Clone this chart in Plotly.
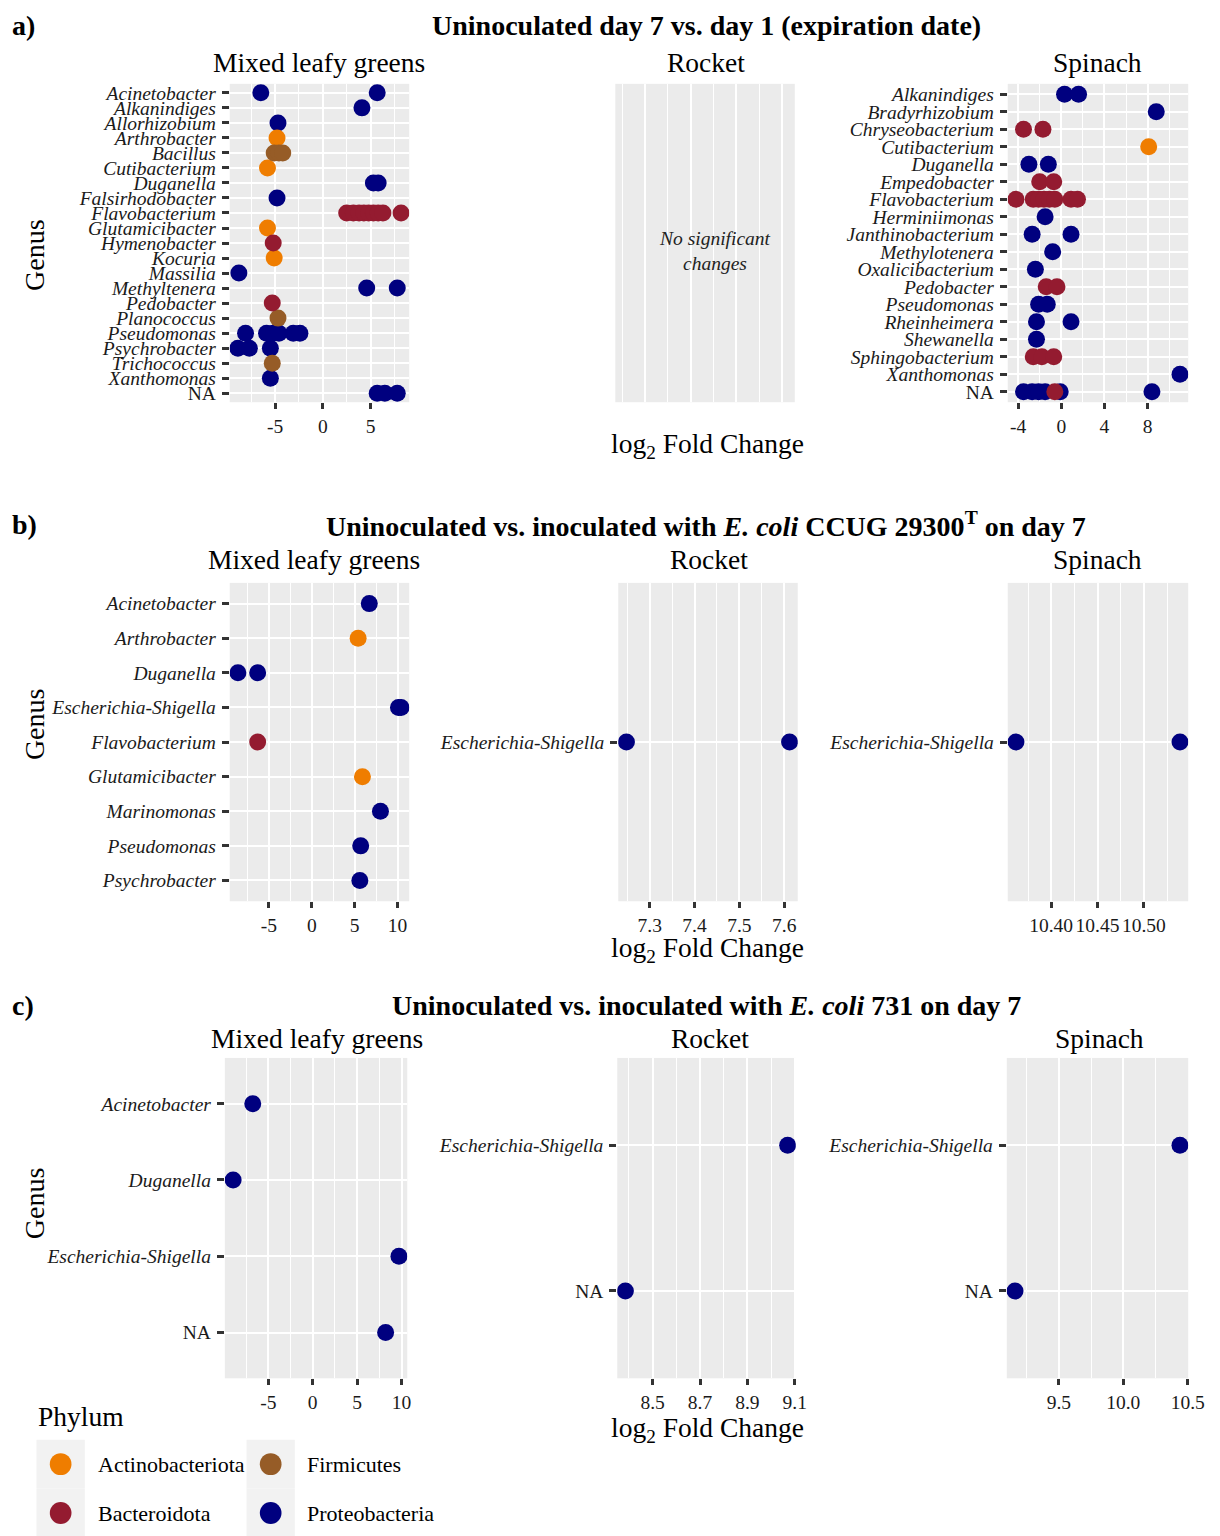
import plotly.graph_objects as go

W, H = 1220, 1536
SERIF = "Liberation Serif, Times New Roman, serif"

# ---------------- phylum palette ----------------
PHYLUM_CODES = ["Act", "Bac", "Fir", "Pro"]
PHYLUM_NAMES = ["Actinobacteriota", "Bacteroidota", "Firmicutes", "Proteobacteria"]
PHYLUM_COLORS = ["#EF7D00", "#941B30", "#965C27", "#00007F"]
DRAW_ORDER = ["Pro", "Act", "Fir", "Bac"]

# ---------------- a) Mixed leafy greens ----------------
A_MIX_ORDER = ["Acinetobacter", "Alkanindiges", "Allorhizobium", "Arthrobacter", "Bacillus",
               "Cutibacterium", "Duganella", "Falsirhodobacter", "Flavobacterium", "Glutamicibacter",
               "Hymenobacter", "Kocuria", "Massilia", "Methyltenera", "Pedobacter", "Planococcus",
               "Pseudomonas", "Psychrobacter", "Trichococcus", "Xanthomonas", "NA"]
A_MIX_GENUS = ["Acinetobacter", "Acinetobacter", "Alkanindiges", "Allorhizobium", "Arthrobacter",
               "Bacillus", "Bacillus", "Bacillus", "Cutibacterium", "Duganella", "Duganella",
               "Falsirhodobacter",
               "Flavobacterium", "Flavobacterium", "Flavobacterium", "Flavobacterium", "Flavobacterium",
               "Flavobacterium", "Flavobacterium", "Flavobacterium", "Flavobacterium",
               "Glutamicibacter", "Hymenobacter", "Kocuria", "Massilia", "Methyltenera", "Methyltenera",
               "Pedobacter", "Planococcus",
               "Pseudomonas", "Pseudomonas", "Pseudomonas", "Pseudomonas", "Pseudomonas", "Pseudomonas",
               "Psychrobacter", "Psychrobacter", "Psychrobacter", "Trichococcus", "Xanthomonas",
               "NA", "NA", "NA"]
A_MIX_LFC = [-6.5, 5.7, 4.1, -4.7, -4.8,
             -5.1, -4.6, -4.2, -5.8, 5.3, 5.8,
             -4.8,
             2.5, 3.2, 3.8, 4.3, 4.8, 5.3, 5.8, 6.3, 8.2,
             -5.8, -5.2, -5.1, -8.8, 4.6, 7.8,
             -5.3, -4.7,
             -8.1, -5.9, -5.2, -4.6, -3.1, -2.4,
             -8.9, -7.7, -5.5, -5.3, -5.5,
             5.7, 6.5, 7.8]
A_MIX_PHYLUM = ["Pro", "Pro", "Pro", "Pro", "Act",
                "Fir", "Fir", "Fir", "Act", "Pro", "Pro",
                "Pro",
                "Bac", "Bac", "Bac", "Bac", "Bac", "Bac", "Bac", "Bac", "Bac",
                "Act", "Bac", "Act", "Pro", "Pro", "Pro",
                "Bac", "Fir",
                "Pro", "Pro", "Pro", "Pro", "Pro", "Pro",
                "Pro", "Pro", "Pro", "Fir", "Pro",
                "Pro", "Pro", "Pro"]

# ---------------- a) Rocket: no significant changes ----------------
A_ROC_ORDER = []
A_ROC_GENUS = []
A_ROC_LFC = []
A_ROC_PHYLUM = []

# ---------------- a) Spinach ----------------
A_SPI_ORDER = ["Alkanindiges", "Bradyrhizobium", "Chryseobacterium", "Cutibacterium", "Duganella",
               "Empedobacter", "Flavobacterium", "Herminiimonas", "Janthinobacterium", "Methylotenera",
               "Oxalicibacterium", "Pedobacter", "Pseudomonas", "Rheinheimera", "Shewanella",
               "Sphingobacterium", "Xanthomonas", "NA"]
A_SPI_GENUS = ["Alkanindiges", "Alkanindiges", "Bradyrhizobium", "Chryseobacterium", "Chryseobacterium",
               "Cutibacterium", "Duganella", "Duganella", "Empedobacter", "Empedobacter",
               "Flavobacterium", "Flavobacterium", "Flavobacterium", "Flavobacterium",
               "Flavobacterium", "Flavobacterium", "Flavobacterium", "Flavobacterium",
               "Herminiimonas", "Janthinobacterium", "Janthinobacterium", "Methylotenera",
               "Oxalicibacterium", "Pedobacter", "Pedobacter", "Pseudomonas", "Pseudomonas",
               "Rheinheimera", "Rheinheimera", "Shewanella",
               "Sphingobacterium", "Sphingobacterium", "Sphingobacterium", "Xanthomonas",
               "NA", "NA", "NA", "NA", "NA", "NA", "NA"]
A_SPI_LFC = [0.3, 1.6, 8.8, -3.5, -1.7,
             8.1, -3.0, -1.2, -2.0, -0.7,
             -4.2, -2.6, -2.1, -1.6,
             -1.1, -0.6, 0.9, 1.5,
             -1.5, -2.7, 0.9, -0.8,
             -2.4, -1.4, -0.4, -2.1, -1.3,
             -2.3, 0.9, -2.3,
             -2.6, -1.8, -0.7, 11.0,
             -3.5, -2.7, -2.1, -1.5, -0.1, 8.4, -0.6]
A_SPI_PHYLUM = ["Pro", "Pro", "Pro", "Bac", "Bac",
                "Act", "Pro", "Pro", "Bac", "Bac",
                "Bac", "Bac", "Bac", "Bac",
                "Bac", "Bac", "Bac", "Bac",
                "Pro", "Pro", "Pro", "Pro",
                "Pro", "Bac", "Bac", "Pro", "Pro",
                "Pro", "Pro", "Pro",
                "Bac", "Bac", "Bac", "Pro",
                "Pro", "Pro", "Pro", "Pro", "Pro", "Pro", "Bac"]

# ---------------- b) inoculated with E. coli CCUG 29300T ----------------
B_MIX_ORDER = ["Acinetobacter", "Arthrobacter", "Duganella", "Escherichia-Shigella", "Flavobacterium",
               "Glutamicibacter", "Marinomonas", "Pseudomonas", "Psychrobacter"]
B_MIX_GENUS = ["Acinetobacter", "Arthrobacter", "Duganella", "Duganella", "Escherichia-Shigella",
               "Escherichia-Shigella", "Flavobacterium", "Glutamicibacter", "Marinomonas",
               "Pseudomonas", "Psychrobacter"]
B_MIX_LFC = [6.7, 5.4, -8.6, -6.3, 10.1, 10.4, -6.3, 5.9, 8.0, 5.7, 5.6]
B_MIX_PHYLUM = ["Pro", "Act", "Pro", "Pro", "Pro", "Pro", "Bac", "Act", "Pro", "Pro", "Pro"]

B_ROC_ORDER = ["Escherichia-Shigella"]
B_ROC_GENUS = ["Escherichia-Shigella", "Escherichia-Shigella"]
B_ROC_LFC = [7.248, 7.612]
B_ROC_PHYLUM = ["Pro", "Pro"]

B_SPI_ORDER = ["Escherichia-Shigella"]
B_SPI_GENUS = ["Escherichia-Shigella", "Escherichia-Shigella"]
B_SPI_LFC = [10.362, 10.539]
B_SPI_PHYLUM = ["Pro", "Pro"]

# ---------------- c) inoculated with E. coli 731 ----------------
C_MIX_ORDER = ["Acinetobacter", "Duganella", "Escherichia-Shigella", "NA"]
C_MIX_GENUS = ["Acinetobacter", "Duganella", "Escherichia-Shigella", "NA"]
C_MIX_LFC = [-6.75, -8.96, 9.7, 8.2]
C_MIX_PHYLUM = ["Pro", "Pro", "Pro", "Pro"]

C_ROC_ORDER = ["Escherichia-Shigella", "NA"]
C_ROC_GENUS = ["Escherichia-Shigella", "NA"]
C_ROC_LFC = [9.07, 8.385]
C_ROC_PHYLUM = ["Pro", "Pro"]

C_SPI_ORDER = ["Escherichia-Shigella", "NA"]
C_SPI_GENUS = ["Escherichia-Shigella", "NA"]
C_SPI_LFC = [10.44, 9.16]
C_SPI_PHYLUM = ["Pro", "Pro"]

# ---------------- tick labels ----------------
A_MIX_XTICKS = [-5, 0, 5]
A_ROC_XTICKS = [0, 1, 2, 3]
A_SPI_XTICKS = [-4, 0, 4, 8]
B_MIX_XTICKS = [-5, 0, 5, 10]
B_ROC_XTICKS = [7.3, 7.4, 7.5, 7.6]
B_SPI_XTICKS = [10.40, 10.45, 10.50]
C_MIX_XTICKS = [-5, 0, 5, 10]
C_ROC_XTICKS = [8.5, 8.7, 8.9, 9.1]
C_SPI_XTICKS = [9.5, 10.0, 10.5]

# ---------------- text ----------------
SECTION_LABELS = ["a)", "b)", "c)"]
SECTION_TITLES = [
    "Uninoculated day 7 vs. day 1 (expiration date)",
    "Uninoculated vs. inoculated with <i>E. coli</i> CCUG 29300<sup>T</sup> on day 7",
    "Uninoculated vs. inoculated with <i>E. coli</i> 731 on day 7",
]
PRODUCE = ["Mixed leafy greens", "Rocket", "Spinach"]

# panel layout (pixel boxes: x0, x1, y0, y1 from top-left)
PANELS = [
    dict(order=A_MIX_ORDER, genus=A_MIX_GENUS, lfc=A_MIX_LFC, phy=A_MIX_PHYLUM, ticks=A_MIX_XTICKS, dec=0, box=(233, 415, 83, 402)),
    dict(order=A_ROC_ORDER, genus=A_ROC_GENUS, lfc=A_ROC_LFC, phy=A_ROC_PHYLUM, ticks=A_ROC_XTICKS, dec=0, box=(624, 806, 83, 402), empty_range=(-0.648, 3.283)),
    dict(order=A_SPI_ORDER, genus=A_SPI_GENUS, lfc=A_SPI_LFC, phy=A_SPI_PHYLUM, ticks=A_SPI_XTICKS, dec=0, box=(1022, 1205, 83, 402)),
    dict(order=B_MIX_ORDER, genus=B_MIX_GENUS, lfc=B_MIX_LFC, phy=B_MIX_PHYLUM, ticks=B_MIX_XTICKS, dec=0, box=(233, 415, 583, 902)),
    dict(order=B_ROC_ORDER, genus=B_ROC_GENUS, lfc=B_ROC_LFC, phy=B_ROC_PHYLUM, ticks=B_ROC_XTICKS, dec=1, box=(627, 809, 583, 902)),
    dict(order=B_SPI_ORDER, genus=B_SPI_GENUS, lfc=B_SPI_LFC, phy=B_SPI_PHYLUM, ticks=B_SPI_XTICKS, dec=2, box=(1022, 1205, 583, 902)),
    dict(order=C_MIX_ORDER, genus=C_MIX_GENUS, lfc=C_MIX_LFC, phy=C_MIX_PHYLUM, ticks=C_MIX_XTICKS, dec=0, box=(228, 413, 1059, 1380)),
    dict(order=C_ROC_ORDER, genus=C_ROC_GENUS, lfc=C_ROC_LFC, phy=C_ROC_PHYLUM, ticks=C_ROC_XTICKS, dec=1, box=(626, 807, 1059, 1380)),
    dict(order=C_SPI_ORDER, genus=C_SPI_GENUS, lfc=C_SPI_LFC, phy=C_SPI_PHYLUM, ticks=C_SPI_XTICKS, dec=1, box=(1021, 1205, 1059, 1380)),
]

GRID_BG = "#EBEBEB"
TICK_COL = "#333333"
TXT_COL = "#1A1A1A"
MARKER_SIZE = 17


def fx(v):
    return v / W


def fy(v):
    return 1 - v / H


def fmt(v, dec):
    return f"{v:.{dec}f}"


fig = go.Figure()
color_of = dict(zip(PHYLUM_CODES, PHYLUM_COLORS))
axes = {}

for i, p in enumerate(PANELS, start=1):
    xr = "x" if i == 1 else f"x{i}"
    yr = "y" if i == 1 else f"y{i}"
    x0, x1, y0, y1 = p["box"]
    empty = len(p["lfc"]) == 0

    if empty:
        fig.add_trace(go.Scatter(x=[], y=[], xaxis=xr, yaxis=yr, showlegend=False, hoverinfo="skip"))
    else:
        for code in DRAW_ORDER:
            xs = [v for v, ph in zip(p["lfc"], p["phy"]) if ph == code]
            ys = [g for g, ph in zip(p["genus"], p["phy"]) if ph == code]
            if not xs:
                continue
            fig.add_trace(go.Scatter(
                x=xs, y=ys, mode="markers", xaxis=xr, yaxis=yr, showlegend=False,
                marker=dict(size=MARKER_SIZE, color=color_of[code], line=dict(width=0)),
                hoverinfo="x+y",
            ))

    # x range: ggplot-like 5% expansion
    if empty:
        rng = list(p["empty_range"])
    else:
        lo, hi = min(p["lfc"]), max(p["lfc"])
        sp = hi - lo
        rng = [lo - 0.05 * sp, hi + 0.05 * sp]
    step = p["ticks"][1] - p["ticks"][0]
    xcfg = dict(
        domain=[fx(x0), fx(x1)], anchor=yr, range=rng,
        tickmode="array", tickvals=p["ticks"],
        ticktext=[fmt(v, p["dec"]) for v in p["ticks"]],
        showgrid=True, gridcolor="white", gridwidth=2,
        minor=dict(tickmode="linear", tick0=p["ticks"][0], dtick=step / 2,
                   showgrid=True, gridcolor="white", gridwidth=1, ticks=""),
        zeroline=False, showline=False,
        ticks="outside", ticklen=6, tickwidth=2.5, tickcolor=TICK_COL,
        tickfont=dict(family=SERIF, size=19.5, color=TXT_COL),
        fixedrange=True,
    )
    if empty:
        xcfg.update(showticklabels=False, ticks="")
    n = len(p["order"])
    if empty:
        ycfg = dict(domain=[fy(y1), fy(y0)], anchor=xr, range=[0, 1], showgrid=False,
                    showticklabels=False, zeroline=False, ticks="", fixedrange=True)
    else:
        ycfg = dict(
            domain=[fy(y1), fy(y0)], anchor=xr, type="category",
            categoryorder="array", categoryarray=p["order"],
            range=[n - 0.4, -0.6],
            tickmode="array", tickvals=p["order"],
            ticktext=[g if g == "NA" else f"<i>{g}</i>" for g in p["order"]],
            showgrid=True, gridcolor="white", gridwidth=2,
            zeroline=False, showline=False,
            ticks="outside", ticklen=7, tickwidth=2.5, tickcolor=TICK_COL,
            ticklabelstandoff=2,
            tickfont=dict(family=SERIF, size=19.5, color=TXT_COL),
            fixedrange=True,
        )
    axes["xaxis" if i == 1 else f"xaxis{i}"] = xcfg
    axes["yaxis" if i == 1 else f"yaxis{i}"] = ycfg

annotations = []


def add_text(x, y, s, size, xanchor="center", angle=0, color="#000000"):
    annotations.append(dict(
        xref="paper", yref="paper", x=fx(x), y=fy(y), text=s, showarrow=False,
        xanchor=xanchor, yanchor="middle", textangle=angle,
        font=dict(family=SERIF, size=size, color=color),
    ))


SECTION_Y = [25, 525, 1006]
STRIP_Y = [62, 560, 1040]
STRIP_X = [[324, 716, 1113], [318, 719, 1113], [321, 720, 1115]]
GENUS_Y = [255, 725, 1205]
XTITLE_Y = [445, 950, 1431]

for k in range(3):
    add_text(10, SECTION_Y[k], f"<b>{SECTION_LABELS[k]}</b>", 28, xanchor="left")
    add_text(716, SECTION_Y[k], f"<b>{SECTION_TITLES[k]}</b>", 28)
    for j in range(3):
        add_text(STRIP_X[k][j], STRIP_Y[k], PRODUCE[j], 27.5)
    add_text(35, GENUS_Y[k], "Genus", 28, angle=-90)
    add_text(718, XTITLE_Y[k], "log<sub>2</sub> Fold Change", 27.5)

add_text(725, 250, "<i>No significant<br>changes</i>", 19.5, color="#222222")

# legend (manual, ggplot style)
add_text(37, 1418, "Phylum", 27.5, xanchor="left")
shapes = []
LEG_POS = [(61.5, 1466, 97), (61.5, 1515, 97), (274.5, 1466, 309), (274.5, 1515, 309)]
for (cx, cy, tx), name, col in zip(LEG_POS, PHYLUM_NAMES, PHYLUM_COLORS):
    shapes.append(dict(type="rect", xref="paper", yref="paper",
                       x0=fx(cx - 24.5), x1=fx(cx + 24.5), y0=fy(cy + 24.5), y1=fy(cy - 24.5),
                       fillcolor="#F2F2F2", line=dict(width=0), layer="below"))
for (cx, cy, tx), name, col in zip(LEG_POS, PHYLUM_NAMES, PHYLUM_COLORS):
    shapes.append(dict(type="circle", xref="paper", yref="paper",
                       x0=fx(cx - 11), x1=fx(cx + 11), y0=fy(cy + 11), y1=fy(cy - 11),
                       fillcolor=col, line=dict(width=0)))
    add_text(tx, cy, name, 22, xanchor="left")

fig.update_layout(
    width=W, height=H, autosize=False, margin=dict(l=0, r=0, t=0, b=0),
    paper_bgcolor="white", plot_bgcolor=GRID_BG,
    showlegend=False, annotations=annotations, shapes=shapes,
    font=dict(family=SERIF, color="#000000"),
    **axes,
)

fig.write_html("out.html", config={"displayModeBar": False, "responsive": False},
               default_width=f"{W}px", default_height=f"{H}px",
               post_script="document.body.style.margin='0';document.body.style.overflow='hidden';")
